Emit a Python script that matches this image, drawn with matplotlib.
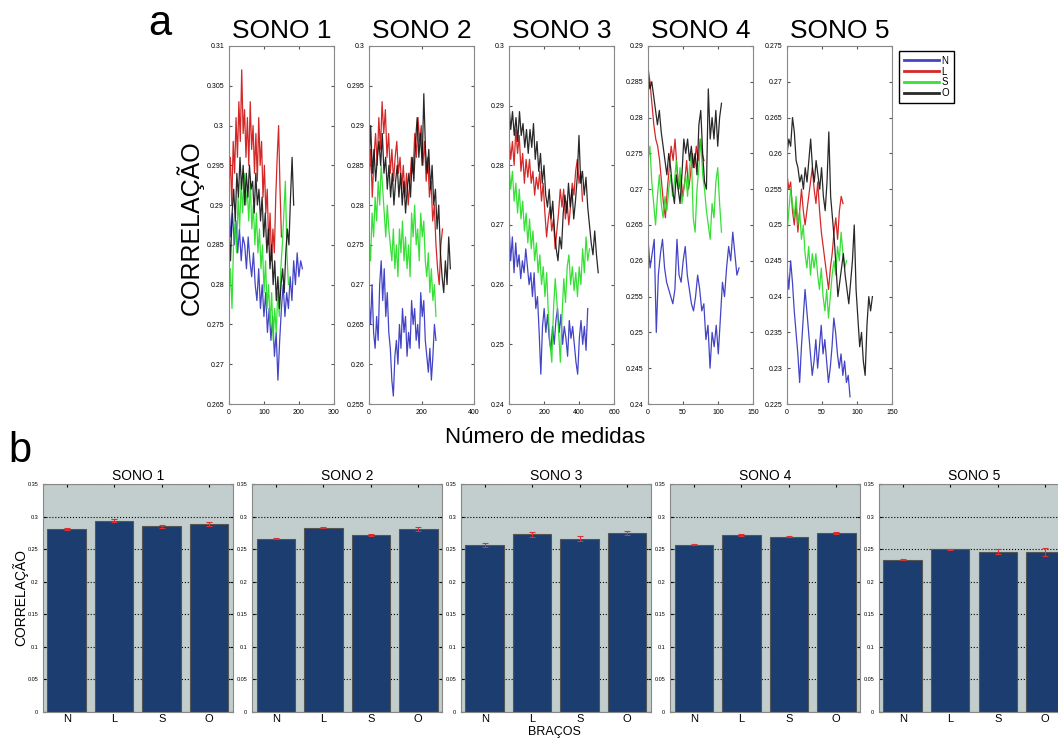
import numpy as np
import matplotlib
matplotlib.use("Agg")
import matplotlib.pyplot as plt

plt.rcParams['font.family'] = ['Liberation Sans', 'DejaVu Sans']

# ---------------- dados (a): correlação x número de medidas ----------------
sonos = ["SONO 1", "SONO 2", "SONO 3", "SONO 4", "SONO 5"]
bracos = ["N", "L", "S", "O"]

# último índice de medida de cada série (N, L, S, O)
n_medidas = [
    [210, 150, 170, 185],
    [255, 280, 255, 310],
    [450, 420, 460, 510],
    [130, 80, 105, 105],
    [90, 80, 85, 122],
]

sono1_N = [0.290, 0.286, 0.289, 0.285, 0.288, 0.284, 0.287, 0.283, 0.286, 0.285, 0.282, 0.286, 0.283, 0.281, 0.284,
           0.280, 0.278, 0.282, 0.277, 0.280, 0.276, 0.279, 0.274, 0.277, 0.273, 0.276, 0.271, 0.274, 0.268, 0.273,
           0.277, 0.280, 0.276, 0.279, 0.277, 0.281, 0.278, 0.283, 0.280, 0.284, 0.281, 0.283, 0.282]
sono1_L = [0.292, 0.296, 0.290, 0.298, 0.294, 0.301, 0.296, 0.303, 0.298, 0.307, 0.299, 0.302, 0.296, 0.301, 0.295,
           0.303, 0.297, 0.300, 0.294, 0.299, 0.293, 0.301, 0.295, 0.298, 0.291, 0.295, 0.289, 0.292, 0.285, 0.289,
           0.283, 0.287, 0.284, 0.291, 0.296, 0.300, 0.292, 0.286]
sono1_S = [0.278, 0.282, 0.277, 0.285, 0.288, 0.284, 0.291, 0.287, 0.293, 0.289, 0.294, 0.290, 0.292, 0.288, 0.293,
           0.287, 0.290, 0.285, 0.289, 0.284, 0.287, 0.282, 0.285, 0.279, 0.283, 0.277, 0.280, 0.275, 0.279, 0.273,
           0.277, 0.274, 0.279, 0.276, 0.282, 0.285, 0.289, 0.293, 0.284, 0.280]
sono1_O = [0.287, 0.283, 0.289, 0.292, 0.288, 0.294, 0.291, 0.296, 0.292, 0.295, 0.290, 0.294, 0.291, 0.295, 0.292,
           0.293, 0.289, 0.294, 0.290, 0.292, 0.288, 0.291, 0.286, 0.289, 0.284, 0.287, 0.282, 0.285, 0.280, 0.283,
           0.278, 0.281, 0.277, 0.280, 0.282, 0.279, 0.284, 0.287, 0.285, 0.291, 0.296, 0.290]

sono2_N = [0.268, 0.265, 0.270, 0.264, 0.262, 0.266, 0.263, 0.270, 0.273, 0.268, 0.272, 0.266, 0.269, 0.264, 0.262,
           0.258, 0.256, 0.261, 0.263, 0.260, 0.265, 0.262, 0.267, 0.264, 0.266, 0.261, 0.264, 0.262, 0.268, 0.265,
           0.267, 0.263, 0.265, 0.262, 0.269, 0.266, 0.268, 0.263, 0.261, 0.259, 0.262, 0.258, 0.261, 0.265, 0.263]
sono2_L = [0.283, 0.287, 0.281, 0.286, 0.289, 0.285, 0.291, 0.287, 0.293, 0.289, 0.292, 0.286, 0.289, 0.284, 0.287,
           0.283, 0.286, 0.288, 0.284, 0.286, 0.282, 0.285, 0.281, 0.284, 0.280, 0.283, 0.286, 0.284, 0.289, 0.286,
           0.291, 0.288, 0.290, 0.285, 0.288, 0.283, 0.286, 0.281, 0.283, 0.278, 0.280, 0.275, 0.272, 0.270, 0.275,
           0.277]
sono2_S = [0.276, 0.273, 0.279, 0.276, 0.281, 0.278, 0.283, 0.280, 0.285, 0.282, 0.279, 0.276, 0.280, 0.277, 0.275,
           0.273, 0.277, 0.272, 0.275, 0.271, 0.277, 0.274, 0.278, 0.273, 0.276, 0.272, 0.275, 0.271, 0.279, 0.276,
           0.280, 0.275, 0.277, 0.273, 0.279, 0.276, 0.278, 0.273, 0.271, 0.274, 0.269, 0.272, 0.268, 0.270, 0.266]
sono2_O = [0.285, 0.290, 0.284, 0.287, 0.283, 0.286, 0.288, 0.285, 0.289, 0.284, 0.286, 0.282, 0.285, 0.281, 0.284,
           0.280, 0.283, 0.285, 0.281, 0.284, 0.280, 0.283, 0.279, 0.282, 0.284, 0.281, 0.286, 0.283, 0.288, 0.291,
           0.286, 0.289, 0.285, 0.294, 0.287, 0.284, 0.287, 0.282, 0.285, 0.280, 0.282, 0.277, 0.280, 0.274, 0.271,
           0.269, 0.273, 0.270, 0.276, 0.272]

sono3_N = [0.270, 0.264, 0.268, 0.262, 0.267, 0.263, 0.265, 0.261, 0.264, 0.262, 0.266, 0.263, 0.260, 0.262, 0.258,
           0.262, 0.256, 0.258, 0.252, 0.245, 0.253, 0.256, 0.252, 0.255, 0.251, 0.249, 0.253, 0.250, 0.254, 0.256,
           0.252, 0.255, 0.250, 0.253, 0.251, 0.248, 0.254, 0.251, 0.253, 0.250, 0.247, 0.245, 0.251, 0.254, 0.250,
           0.253, 0.249, 0.256]
sono3_L = [0.285, 0.281, 0.284, 0.280, 0.286, 0.282, 0.285, 0.279, 0.282, 0.277, 0.281, 0.278, 0.281, 0.277, 0.279,
           0.275, 0.278, 0.276, 0.279, 0.274, 0.277, 0.272, 0.268, 0.271, 0.273, 0.269, 0.271, 0.266, 0.269, 0.272,
           0.276, 0.273, 0.276, 0.271, 0.274, 0.270, 0.273, 0.277, 0.275, 0.279, 0.281, 0.277, 0.279, 0.274]
sono3_S = [0.280, 0.276, 0.279, 0.274, 0.277, 0.272, 0.276, 0.271, 0.274, 0.269, 0.272, 0.267, 0.271, 0.266, 0.269,
           0.264, 0.267, 0.262, 0.265, 0.260, 0.263, 0.258, 0.262, 0.255, 0.250, 0.247, 0.256, 0.261, 0.257, 0.252,
           0.247, 0.255, 0.261, 0.257, 0.263, 0.265, 0.260, 0.263, 0.259, 0.262, 0.258, 0.263, 0.260, 0.266, 0.262,
           0.268, 0.264, 0.266]
sono3_O = [0.290, 0.286, 0.289, 0.285, 0.288, 0.284, 0.289, 0.285, 0.287, 0.283, 0.286, 0.282, 0.286, 0.283, 0.287,
           0.281, 0.284, 0.279, 0.282, 0.277, 0.280, 0.275, 0.273, 0.276, 0.271, 0.274, 0.269, 0.266, 0.264, 0.268,
           0.266, 0.272, 0.275, 0.272, 0.277, 0.273, 0.276, 0.271, 0.274, 0.278, 0.285, 0.277, 0.279, 0.275, 0.278,
           0.273, 0.270, 0.267, 0.265, 0.269, 0.265, 0.262]

sono4_N = [0.263, 0.259, 0.261, 0.263, 0.250, 0.258, 0.261, 0.263, 0.259, 0.257, 0.256, 0.255, 0.254, 0.256, 0.263,
           0.258, 0.257, 0.260, 0.262, 0.258, 0.256, 0.254, 0.253, 0.255, 0.258, 0.256, 0.253, 0.254, 0.249, 0.251,
           0.245, 0.250, 0.248, 0.251, 0.247, 0.252, 0.257, 0.255, 0.259, 0.262, 0.260, 0.264, 0.261, 0.258, 0.259]
sono4_L = [0.287, 0.285, 0.282, 0.279, 0.277, 0.276, 0.274, 0.271, 0.268, 0.266, 0.270, 0.273, 0.276, 0.274, 0.277,
           0.273, 0.270, 0.272, 0.269, 0.271, 0.274, 0.270, 0.272, 0.275, 0.273, 0.276, 0.274, 0.277, 0.275, 0.274]
sono4_S = [0.274, 0.276, 0.271, 0.268, 0.265, 0.269, 0.272, 0.268, 0.266, 0.269, 0.267, 0.270, 0.272, 0.269, 0.271,
           0.274, 0.270, 0.273, 0.268, 0.270, 0.272, 0.269, 0.273, 0.275, 0.266, 0.264, 0.270, 0.273, 0.277, 0.272,
           0.270, 0.267, 0.265, 0.263, 0.268, 0.266, 0.271, 0.273, 0.268, 0.264]
sono4_O = [0.286, 0.284, 0.285, 0.283, 0.281, 0.279, 0.281, 0.278, 0.276, 0.274, 0.272, 0.275, 0.273, 0.270, 0.268,
           0.272, 0.270, 0.268, 0.272, 0.277, 0.275, 0.277, 0.274, 0.276, 0.273, 0.275, 0.272, 0.279, 0.281, 0.275,
           0.271, 0.270, 0.284, 0.277, 0.280, 0.277, 0.281, 0.276, 0.280, 0.282]

sono5_N = [0.244, 0.241, 0.245, 0.242, 0.238, 0.235, 0.232, 0.228, 0.233, 0.237, 0.241, 0.238, 0.235, 0.232, 0.229,
           0.231, 0.234, 0.230, 0.233, 0.236, 0.232, 0.234, 0.231, 0.228, 0.230, 0.233, 0.237, 0.235, 0.232, 0.230,
           0.232, 0.229, 0.231, 0.228, 0.229, 0.226]
sono5_L = [0.257, 0.255, 0.256, 0.252, 0.250, 0.253, 0.249, 0.252, 0.255, 0.252, 0.250, 0.252, 0.254, 0.256, 0.258,
           0.255, 0.253, 0.256, 0.252, 0.249, 0.247, 0.245, 0.243, 0.241, 0.244, 0.246, 0.249, 0.251, 0.248, 0.252,
           0.254, 0.253]
sono5_S = [0.249, 0.252, 0.255, 0.253, 0.251, 0.254, 0.250, 0.252, 0.248, 0.250, 0.246, 0.244, 0.247, 0.243, 0.246,
           0.244, 0.246, 0.243, 0.241, 0.244, 0.240, 0.238, 0.241, 0.237, 0.240, 0.243, 0.245, 0.243, 0.247, 0.245,
           0.249, 0.246, 0.244, 0.245]
sono5_O = [0.260, 0.262, 0.261, 0.265, 0.263, 0.259, 0.258, 0.256, 0.257, 0.255, 0.258, 0.256, 0.259, 0.262, 0.258,
           0.256, 0.259, 0.257, 0.255, 0.258, 0.254, 0.252, 0.256, 0.263, 0.254, 0.251, 0.248, 0.244, 0.240, 0.242,
           0.244, 0.246, 0.243, 0.241, 0.239, 0.242, 0.245, 0.250, 0.241, 0.237, 0.233, 0.235, 0.231, 0.229, 0.236,
           0.240, 0.238, 0.240]

series_a = [
    [sono1_N, sono1_L, sono1_S, sono1_O],
    [sono2_N, sono2_L, sono2_S, sono2_O],
    [sono3_N, sono3_L, sono3_S, sono3_O],
    [sono4_N, sono4_L, sono4_S, sono4_O],
    [sono5_N, sono5_L, sono5_S, sono5_O],
]

ylims_a = [(0.265, 0.31), (0.255, 0.30), (0.24, 0.30), (0.24, 0.29), (0.225, 0.275)]
ysteps_a = [0.005, 0.005, 0.01, 0.005, 0.005]
xlims_a = [300, 400, 600, 150, 150]
xsteps_a = [100, 200, 200, 50, 50]

# ---------------- dados (b): média por braço ----------------
media_b = [
    [0.281, 0.294, 0.285, 0.288],
    [0.266, 0.283, 0.272, 0.281],
    [0.257, 0.273, 0.266, 0.275],
    [0.257, 0.272, 0.269, 0.275],
    [0.234, 0.250, 0.246, 0.246],
]
erro_b = [
    [0.002, 0.002, 0.002, 0.003],
    [0.001, 0.001, 0.001, 0.003],
    [0.003, 0.004, 0.004, 0.003],
    [0.001, 0.001, 0.001, 0.001],
    [0.001, 0.001, 0.004, 0.006],
]

cores = ["#2f2fc0", "#d01010", "#20dd20", "#111111"]

fig = plt.figure(figsize=(10.58, 7.39), dpi=100)

# ================= painel a =================
lefts_a = [0.2164, 0.3488, 0.4811, 0.6125, 0.7439]
linhas = []
for i in range(5):
    ax = fig.add_axes([lefts_a[i], 0.4533, 0.0992, 0.4845])
    for j in range(4):
        y = np.array(series_a[i][j])
        x = np.linspace(0, n_medidas[i][j], len(y))
        l, = ax.plot(x, y, color=cores[j], lw=0.9, alpha=0.9)
        if i == 0:
            linhas.append(l)
    ax.set_xlim(0, xlims_a[i])
    ax.set_ylim(*ylims_a[i])
    ax.set_xticks(np.arange(0, xlims_a[i] + 1, xsteps_a[i]))
    ax.set_yticks(np.arange(ylims_a[i][0], ylims_a[i][1] + 1e-9, ysteps_a[i]))
    ax.yaxis.set_major_formatter(matplotlib.ticker.FuncFormatter(lambda v, p: f"{v:.3f}".rstrip("0").rstrip(".")))
    ax.tick_params(direction="in", top=True, right=True, labelsize=5, length=2.5, color="#555555")
    for s in ax.spines.values():
        s.set_color("#888888")
    ax.set_title(sonos[i], fontsize=19, pad=6)

leg = fig.legend(linhas, bracos, loc="upper left", bbox_to_anchor=(0.845, 0.938), fontsize=7,
                 handlelength=3.6, labelspacing=0.1, handletextpad=0.3, borderpad=0.5,
                 fancybox=False, framealpha=1)
leg.get_frame().set_edgecolor("black")
leg.get_frame().set_linewidth(1.0)
for h in leg.get_lines():
    h.set_linewidth(2)

fig.text(0.151, 0.968, "a", fontsize=30, ha="center", va="center")
fig.text(0.1796, 0.6915, "CORRELAÇÃO", fontsize=18, rotation=90, ha="center", va="center")
fig.text(0.515, 0.408, "Número de medidas", fontsize=16, ha="center", va="center")

# ================= painel b =================
lefts_b = [0.0406, 0.2382, 0.4357, 0.6333, 0.8308]
pos = np.arange(1, 5)
for i in range(5):
    ax = fig.add_axes([lefts_b[i], 0.0365, 0.1796, 0.3085])
    ax.set_facecolor("#c2cecd")
    ax.set_axisbelow(True)
    ax.yaxis.grid(True, color="black", linestyle=":", linewidth=0.8)
    ax.bar(pos, media_b[i], width=0.81, color="#1b3d6f", edgecolor="#555555", linewidth=0.8)
    ax.errorbar(pos, media_b[i], yerr=erro_b[i], fmt="none", ecolor="#e03030", elinewidth=0.8,
                capsize=2, capthick=0.8)
    ax.set_xlim(0.5, 4.5)
    ax.set_ylim(0, 0.35)
    ax.set_yticks(np.arange(0, 0.351, 0.05))
    ax.yaxis.set_major_formatter(matplotlib.ticker.FuncFormatter(lambda v, p: f"{v:.2f}".rstrip("0").rstrip(".")))
    ax.set_xticks(pos)
    ax.set_xticklabels(bracos, fontsize=8)
    ax.tick_params(axis="y", labelsize=4, direction="in", right=True, length=2)
    ax.tick_params(axis="x", direction="in", top=True, length=2, pad=1.5)
    for s in ax.spines.values():
        s.set_color("#888888")
    ax.set_title(sonos[i], fontsize=10, pad=3)

fig.text(0.019, 0.39, "b", fontsize=30, ha="center", va="center")
fig.text(0.019, 0.192, "CORRELAÇÃO", fontsize=10, rotation=90, ha="center", va="center")
fig.text(0.5236, 0.009, "BRAÇOS", fontsize=9, ha="center", va="center")

fig.savefig("out.png", dpi=100)
